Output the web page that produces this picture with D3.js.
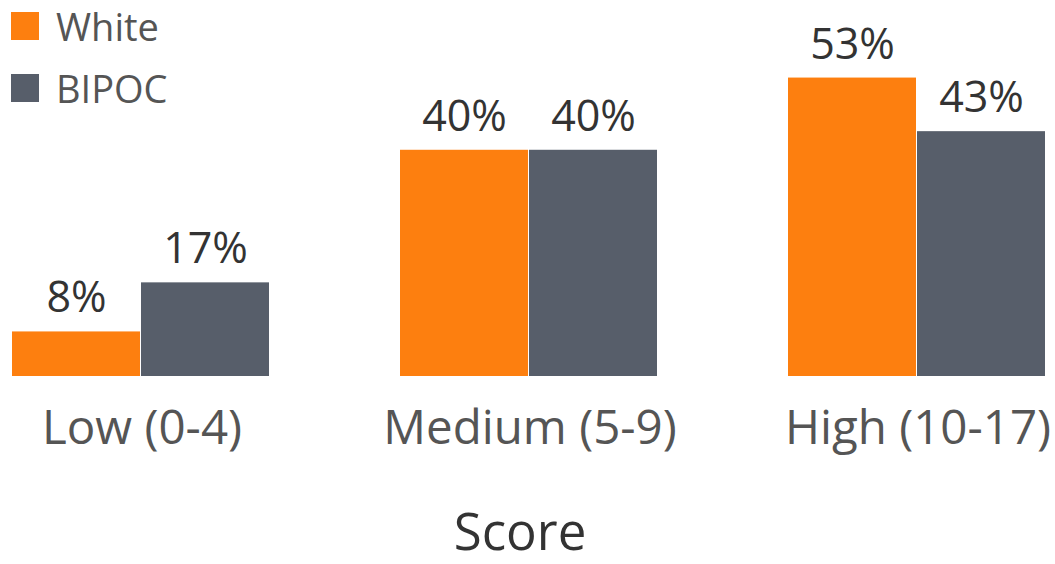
<!DOCTYPE html>
<html><head><meta charset="utf-8">
<script src="https://cdn.jsdelivr.net/npm/d3@7"></script>
<style>body{margin:0;background:#fff}svg{display:block}</style>
</head><body>
<svg id="c" width="1055" height="564"></svg>
<script>
const categories = ["Low (0-4)", "Medium (5-9)", "High (10-17)"];
const series = ["White", "BIPOC"];
const whiteValues = [7.9, 40.1, 52.9];
const bipocValues = [16.6, 40.1, 43.4];
const axisTitle = "Score";
const colors = ["#FD7F0F", "#575E6A"];

const data = categories.map((c, i) => ({cat: c, vals: [whiteValues[i], bipocValues[i]]}));
const svg = d3.select("#c");
const font = "'Open Sans', sans-serif";

const x0 = d3.scaleBand().domain(categories).range([12, 1046]).paddingInner(130/388).paddingOuter(0);
const x1 = d3.scaleBand().domain(series).range([0, x0.bandwidth()]);
const y = d3.scaleLinear().domain([0, 53]).range([376, 77]);
const color = d3.scaleOrdinal().domain(series).range(colors);

const g = svg.append("g");
const groups = g.selectAll("g.grp").data(data).join("g").attr("transform", d => `translate(${x0(d.cat)},0)`);
groups.selectAll("rect").data(d => d.vals.map((v, j) => ({s: series[j], v}))).join("rect")
  .attr("x", d => x1(d.s)).attr("width", x1.bandwidth() - 1)
  .attr("y", d => y(d.v)).attr("height", d => y(0) - y(d.v))
  .attr("fill", d => color(d.s));
groups.selectAll("text").data(d => d.vals.map((v, j) => ({s: series[j], v}))).join("text")
  .attr("x", d => x1(d.s) + x1.bandwidth() / 2).attr("y", d => y(d.v) - 19)
  .attr("text-anchor", "middle").attr("font-family", font).attr("font-size", 43).attr("fill", "#333")
  .text(d => Math.round(d.v) + "%");

const xAxis = d3.axisBottom(x0).tickSize(0).tickPadding(0);
const ax = svg.append("g").attr("transform", "translate(0,376)").call(xAxis);
ax.select(".domain").remove();
ax.selectAll("text").attr("font-family", font).attr("font-size", 47.5).attr("fill", "#555")
  .attr("dy", null).attr("y", 68).attr("dx", 1);

svg.append("text").attr("x", 520).attr("y", 550).attr("text-anchor", "middle")
  .attr("font-family", font).attr("font-size", 51).attr("fill", "#333").text(axisTitle);

const leg = svg.append("g");
series.forEach((s, i) => {
  leg.append("rect").attr("x", 11).attr("y", 12 + i * 62).attr("width", 28).attr("height", 28).attr("fill", color(s));
  leg.append("text").attr("x", 56).attr("y", 41 + i * 62).attr("font-family", font).attr("font-size", 38)
    .attr("fill", "#555").text(s);
});
</script>
</body></html>
